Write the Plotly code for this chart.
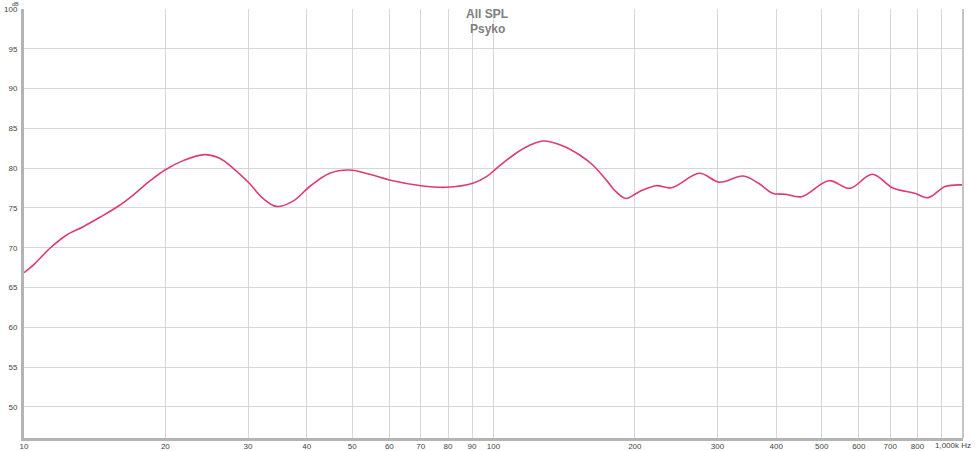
import plotly.graph_objects as go

freq_hz = [10, 10.45, 11.36, 12.33, 13.37, 14.51, 15.75, 17.09, 18.55, 20.0, 21.83, 24.2, 26.1, 27.9,
           30.2, 32.3, 34.5, 37.5, 40.6, 44.8, 49.4, 54.5, 60.0, 70.1, 79.3, 90.4, 96.6, 101.5, 110.3,
           119.7, 127.8, 140.6, 152.6, 162.7, 173.8, 182.3, 191.5, 204.4, 221.8, 239.6, 274.5, 303, 340, 367,
           393, 419, 453, 518, 574, 641, 707, 789, 843, 916, 1000]
spl_db = [66.87, 67.8, 69.94, 71.6, 72.65, 73.83, 75.09, 76.63, 78.4, 79.8, 80.95, 81.7, 81.24, 79.99,
          78.1, 76.2, 75.2, 75.9, 77.7, 79.36, 79.77, 79.23, 78.52, 77.8, 77.6, 78.1, 78.93, 79.99, 81.66,
          82.9, 83.42, 82.8, 81.66, 80.4, 78.52, 77.05, 76.2, 77.05, 77.8, 77.55, 79.36, 78.23, 79.02, 78.1,
          76.85, 76.72, 76.42, 78.43, 77.47, 79.23, 77.55, 76.85, 76.3, 77.7, 77.9]

x_tickvals = [10, 20, 30, 40, 50, 60, 70, 80, 90, 100, 200, 300, 400, 500, 600, 700, 800, 900]
x_ticktext = ["10", "20", "30", "40", "50", "60", "70", "80", "90", "100", "200", "300", "400",
              "500", "600", "700", "800", ""]
y_tickvals = [50, 55, 60, 65, 70, 75, 80, 85, 90, 95, 100]

title_line1 = "All SPL"
title_line2 = "Psyko"

fig = go.Figure()
fig.add_trace(go.Scatter(x=freq_hz, y=spl_db, mode="lines",
                         line=dict(color="#dc3a78", width=1.6, shape="spline", smoothing=1.0),
                         showlegend=False, hoverinfo="skip"))

axis_font = dict(family="Liberation Sans, Arial, sans-serif", size=8, color="#444444")

fig.update_layout(
    width=975, height=451,
    margin=dict(l=24, r=12, t=9, b=13),
    paper_bgcolor="white", plot_bgcolor="white",
    xaxis=dict(type="log", range=[1, 3], tickvals=x_tickvals, ticktext=x_ticktext,
               showgrid=True, gridcolor="#d6d6d6", gridwidth=1, automargin=False,
               showline=True, linecolor="#b4b4b4", linewidth=3, mirror=False,
               ticks="", tickfont=axis_font, zeroline=False, ticklabelstandoff=-2),
    yaxis=dict(range=[46.1, 100], tickvals=y_tickvals, automargin=False,
               showgrid=True, gridcolor="#d6d6d6", gridwidth=1,
               showline=True, linecolor="#b4b4b4", linewidth=3,
               ticks="", tickfont=axis_font, zeroline=False, ticklabelstandoff=2),
    shapes=[dict(type="line", xref="paper", yref="paper", x0=1, x1=1, y0=0, y1=1,
                 line=dict(color="#c4c4c4", width=2))],
    annotations=[
        dict(text=title_line1, xref="paper", yref="paper", x=(487 - 24) / 939, y=(438 - 14) / 429,
             xanchor="center", yanchor="middle", showarrow=False,
             font=dict(family="Liberation Sans, Arial, sans-serif", size=12, color="#808080", weight="bold")),
        dict(text=title_line2, xref="paper", yref="paper", x=(487 - 24) / 939, y=(438 - 29) / 429,
             xanchor="center", yanchor="middle", showarrow=False,
             font=dict(family="Liberation Sans, Arial, sans-serif", size=12, color="#808080", weight="bold")),
        dict(text="dB", xref="paper", yref="paper", x=-4 / 939, y=(438 - 0) / 429, xanchor="right",
             yanchor="top", borderpad=0, showarrow=False,
             font=dict(family="Liberation Sans, Arial, sans-serif", size=5.5, color="#444444")),
        dict(text="1,000k Hz", xref="paper", yref="paper", x=(973 - 24) / 939, y=0, xanchor="right",
             yanchor="top", yshift=-1, showarrow=False, font=axis_font),
    ],
)

fig.write_html("out.html", config={"displayModeBar": False},
               post_script="document.body.style.margin='0';document.body.style.overflow='hidden';")
